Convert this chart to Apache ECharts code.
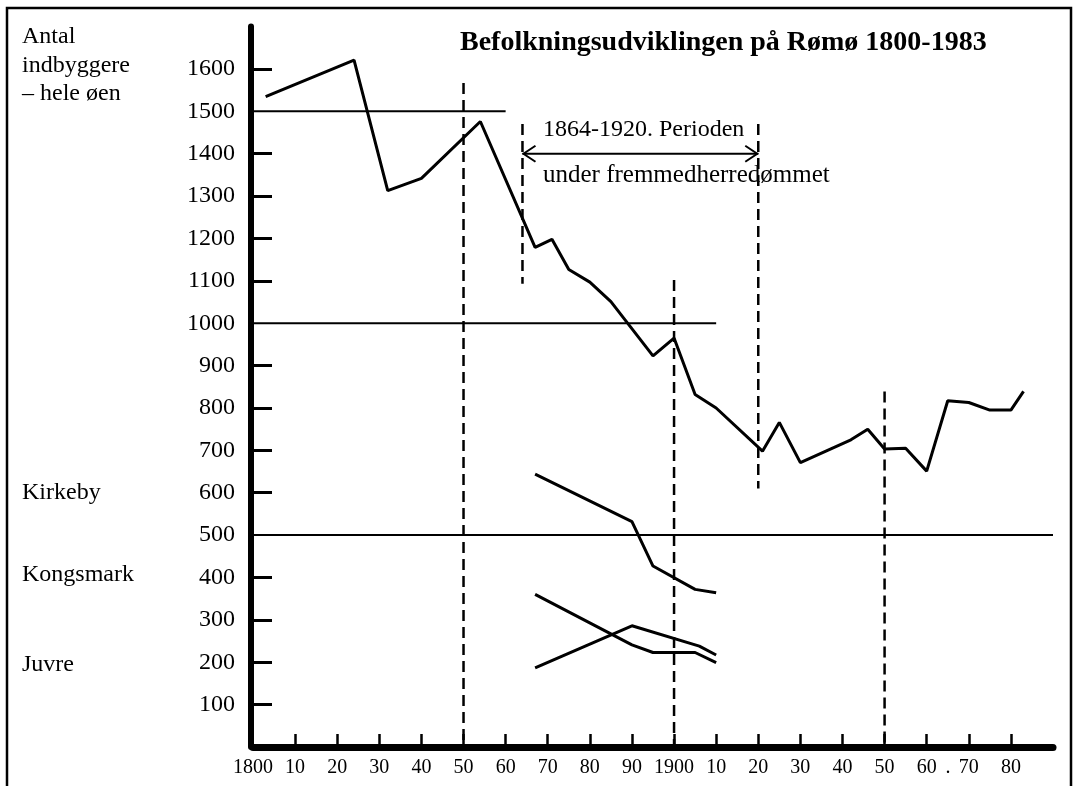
<!DOCTYPE html>
<html><head><meta charset="utf-8">
<script src="https://cdn.jsdelivr.net/npm/echarts@6/dist/echarts.min.js"></script>
<style>html,body{margin:0;padding:0;background:#fff}#c{width:1076px;height:786px}</style>
</head><body><div id="c"></div>
<script>
// ---- data ----
const years = [1803,1824,1832,1840,1854,1867,1871,1875,1880,1885,1895,1900,1905,1910,1921,1925,1930,1942,1946,1950,1955,1960,1965,1970,1975,1980,1983];
const heleOen = [1535,1621,1313,1342,1476,1179,1198,1127,1097,1051,923,965,832,800,698,766,671,725,750,703,705,651,817,813,795,795,839];
const kirkebyYears = [1867,1890,1895,1905,1910];
const kirkeby = [644,532,427,372,364];
const kongsmarkYears = [1867,1890,1895,1905,1910];
const kongsmark = [360,241,223,223,199];
const juvreYears = [1867,1890,1906,1910];
const juvre = [187,286,238,217];
const refLevels = [1500,1000,500];
const refFrom = [1800,1800,1800];
const refTo = [1860,1910,1990];
const guideYears = [1850,1864,1900,1920,1950];
const guideLow = [0,1093,0,610,0];
const guideHigh = [1567,1470,1102,1470,839];
const periodFrom = 1864, periodTo = 1920, periodLevel = 1400;
const xTickYears = [1810,1820,1830,1840,1850,1860,1870,1880,1890,1900,1910,1920,1930,1940,1950,1960,1970,1980];
const xLabelYears = [1800,1810,1820,1830,1840,1850,1860,1870,1880,1890,1900,1910,1920,1930,1940,1950,1960,1970,1980];
const xLabelTexts = ['1800','10','20','30','40','50','60','70','80','90','1900','10','20','30','40','50','60','70','80'];
const yTickValues = [100,200,300,400,600,700,800,900,1100,1200,1300,1400,1600];
const yLabelValues = [100,200,300,400,500,600,700,800,900,1000,1100,1200,1300,1400,1500,1600];
const titleText = 'Befolkningsudviklingen på Rømø 1800-1983';
const leftTexts = ['Antal','indbyggere','– hele øen'];
const villageNames = ['Kirkeby','Kongsmark','Juvre'];
const periodTexts = ['1864-1920. Perioden','under fremmedherredømmet'];

const serif = '"Liberation Serif", "Times New Roman", serif';
const chart = echarts.init(document.getElementById('c'), null, {renderer:'canvas'});

function lineSeries(xs, ys) {
  return {type:'line', data: xs.map((x,i)=>[x, ys[i]]), symbol:'none', silent:true,
    lineStyle:{color:'#000', width:3}, z:5};
}
function txt(x, y, text, size, weight) {
  return {type:'text', silent:true, x:x, y:y, style:{text:text, font:(weight ? weight + ' ' : '') + size + 'px ' + serif,
    fill:'#000', textAlign:'left', textVerticalAlign:'middle'}};
}

const option = {
  animation:false,
  backgroundColor:'#fff',
  grid:{left:253, top:26.6, width:800, height:720.4},
  xAxis:{type:'value', min:1800, max:1990, splitLine:{show:false},
    axisLine:{show:true, lineStyle:{color:'#000', width:7}},
    axisTick:{show:true, inside:true, length:13, lineStyle:{color:'#000', width:2.5}, customValues:xTickYears},
    axisLabel:{customValues:xLabelYears, formatter:v=>xLabelTexts[xLabelYears.indexOf(v)],
      color:'#000', fontFamily:serif, fontSize:20, margin:11}
  },
  yAxis:{type:'value', min:0, max:1700, offset:2, splitLine:{show:false},
    axisLine:{show:true, lineStyle:{color:'#000', width:6}},
    axisTick:{show:true, inside:true, length:21, lineStyle:{color:'#000', width:3}, customValues:yTickValues},
    axisLabel:{customValues:yLabelValues, formatter:v=>String(v), color:'#000', fontFamily:serif, fontSize:24, margin:16}
  },
  series:[
    {type:'custom', silent:true, z:2, data: refLevels.map((v,i)=>[refFrom[i], refTo[i], v]),
      encode:{x:[0,1], y:2},
      renderItem:(p, api)=>{
        const a = api.coord([api.value(0), api.value(2)]);
        const b = api.coord([api.value(1), api.value(2)]);
        return {type:'line', shape:{x1:a[0], y1:a[1], x2:b[0], y2:b[1]}, style:{stroke:'#000', lineWidth:2}};
      }},
    {type:'custom', silent:true, z:2, data: guideYears.map((y,i)=>[y, guideLow[i], guideHigh[i]]),
      encode:{x:0, y:[1,2]},
      renderItem:(p, api)=>{
        const t = api.coord([api.value(0), api.value(2)]);
        const b = api.coord([api.value(0), api.value(1)]);
        return {type:'line', shape:{x1:t[0], y1:t[1], x2:b[0], y2:b[1]}, style:{stroke:'#000', lineWidth:2.5, lineDash:[11,6]}};
      }},
    {type:'custom', silent:true, z:3, data:[[periodFrom, periodTo, periodLevel]],
      encode:{x:[0,1], y:2},
      renderItem:(p, api)=>{
        const a = api.coord([api.value(0), api.value(2)]);
        const b = api.coord([api.value(1), api.value(2)]);
        const st = {stroke:'#000', lineWidth:2, fill:null};
        return {type:'group', children:[
          {type:'line', shape:{x1:a[0], y1:a[1], x2:b[0], y2:b[1]}, style:st},
          {type:'polyline', shape:{points:[[a[0]+13,a[1]-8],[a[0]+1,a[1]],[a[0]+13,a[1]+8]]}, style:st},
          {type:'polyline', shape:{points:[[b[0]-13,b[1]-8],[b[0]-1,b[1]],[b[0]-13,b[1]+8]]}, style:st}
        ]};
      }},
    lineSeries(years, heleOen),
    lineSeries(kirkebyYears, kirkeby),
    lineSeries(kongsmarkYears, kongsmark),
    lineSeries(juvreYears, juvre)
  ],
  graphic:[
    {type:'rect', silent:true, shape:{x:7, y:8, width:1064, height:820}, style:{fill:'none', stroke:'#000', lineWidth:2.5}},
    txt(460, 43, titleText, 28, 'bold'),
    txt(22, 37, leftTexts[0], 24),
    txt(22, 65.5, leftTexts[1], 24),
    txt(22, 94, leftTexts[2], 24),
    txt(22, 493, villageNames[0], 24),
    txt(22, 575, villageNames[1], 24),
    txt(22, 665, villageNames[2], 24),
    txt(543, 130, periodTexts[0], 24),
    txt(543, 175, periodTexts[1], 25),
    {type:'text', silent:true, x:948, y:768, style:{text:'.', font:'20px ' + serif, fill:'#000', textAlign:'center', textVerticalAlign:'middle'}}
  ]
};
chart.setOption(option);
</script>
</body></html>
